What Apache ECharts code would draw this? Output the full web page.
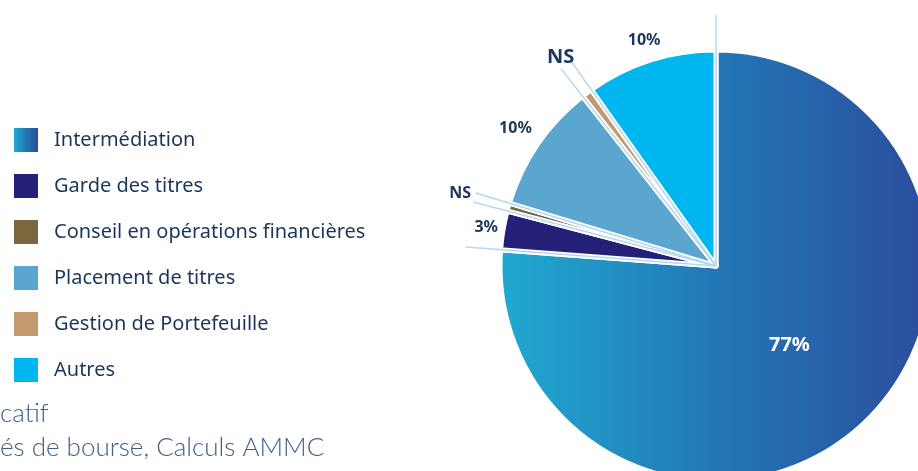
<!DOCTYPE html>
<html>
<head>
<meta charset="utf-8">
<script src="https://cdn.jsdelivr.net/npm/echarts@6/dist/echarts.min.js"></script>
<style>
  html, body { margin: 0; padding: 0; background: #fff; }
  #main { width: 918px; height: 471px; }
</style>
</head>
<body>
<div id="main"></div>
<script>
var categories = ['Intermédiation', 'Garde des titres', 'Conseil en opérations financières', 'Placement de titres', 'Gestion de Portefeuille', 'Autres'];
var shares = [76.2, 2.9, 0.6, 9.7, 0.8, 9.8];
var shareLabels = ['77%', '3%', 'NS', '10%', 'NS', '10%'];
var notes = ['catif', 'és de bourse, Calculs AMMC'];

var FONT = '"Noto Sans", Lato, sans-serif';
var NOTE_FONT = 'Lato, "Noto Sans", sans-serif';
var NAVY = '#1b365d';

var intermGradient = new echarts.graphic.LinearGradient(0, 0, 1, 0, [
  { offset: 0, color: '#20aad1' },
  { offset: 0.5, color: '#2277b6' },
  { offset: 1, color: '#2b4c9c' }
]);
var colors = [intermGradient, '#241f77', '#7a673d', '#5aa6cf', '#c39a6b', '#00b6ee'];

// label placement (distance from centre, px) and text style per slice
var labelDist = [108, 233, 266, 243, 260, 237];
var labelFont = [
  { size: 20, color: '#fff' },
  { size: 16, color: NAVY },
  { size: 16, color: NAVY },
  { size: 16, color: NAVY },
  { size: 20, color: NAVY },
  { size: 16, color: NAVY }
];

var pieData = categories.map(function (name, i) {
  return { name: name, value: shares[i], itemStyle: { color: colors[i] } };
});

// cumulative bounds for separators and labels
var bounds = [];
var acc = 0;
shares.forEach(function (v, i) {
  bounds.push([acc, acc + v, i]);
  acc += v;
});

var chart = echarts.init(document.getElementById('main'));

chart.setOption({
  animation: false,
  legend: {
    orient: 'vertical',
    left: 14,
    top: 128,
    padding: 0,
    icon: 'rect',
    itemWidth: 24,
    itemHeight: 24,
    itemGap: 22,
    selectedMode: false,
    itemStyle: { borderWidth: 0 },
    textStyle: { fontSize: 20, color: NAVY, fontFamily: FONT, padding: [0, 0, 0, 11] },
    data: categories
  },
  polar: { center: [716, 266], radius: 214 },
  angleAxis: { type: 'value', min: 0, max: 100, startAngle: 90, clockwise: true, show: false },
  radiusAxis: { type: 'value', min: 0, max: 214, show: false },
  graphic: [
    { type: 'text', x: 0, y: 414, style: { text: notes[0], font: '300 26px ' + NOTE_FONT, fill: '#3f5f86', verticalAlign: 'middle' } },
    { type: 'text', x: 0, y: 448, style: { text: notes[1], font: '300 26px ' + NOTE_FONT, fill: '#3f5f86', verticalAlign: 'middle' } }
  ],
  series: [
    {
      type: 'pie',
      center: [716, 266],
      radius: 216,
      startAngle: 90,
      clockwise: true,
      silent: true,
      avoidLabelOverlap: false,
      label: { show: false },
      labelLine: { show: false },
      itemStyle: { borderColor: '#fff', borderWidth: 5 },
      data: pieData
    },
    {
      type: 'custom',
      coordinateSystem: 'polar',
      silent: true,
      z: 5,
      data: bounds,
      renderItem: function (params, api) {
        var start = api.value(0);
        var end = api.value(1);
        var i = params.dataIndex;
        var c = api.coord([0, 0]);
        var p = api.coord([251, end]);
        var m = api.coord([labelDist[i], (start + end) / 2]);
        return {
          type: 'group',
          children: [
            {
              type: 'line',
              shape: { x1: c[0], y1: c[1], x2: p[0], y2: p[1] },
              style: { stroke: '#b4d9ee', lineWidth: 1.5 }
            },
            {
              type: 'text',
              x: m[0],
              y: m[1],
              style: {
                text: shareLabels[i],
                align: 'center',
                verticalAlign: 'middle',
                font: 'bold ' + labelFont[i].size + 'px ' + FONT,
                fill: labelFont[i].color
              }
            }
          ]
        };
      }
    }
  ]
});
</script>
</body>
</html>
